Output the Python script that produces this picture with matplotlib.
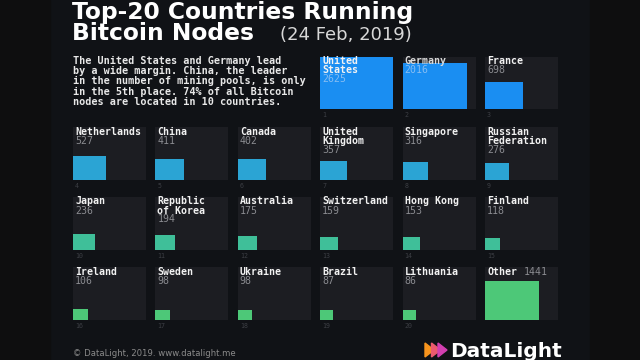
import numpy as np
import matplotlib
matplotlib.use("Agg")
import matplotlib.pyplot as plt
from matplotlib.patches import Rectangle, Polygon

# data
labels = ["United\nStates", "Germany", "France",
          "Netherlands", "China", "Canada", "United\nKingdom", "Singapore", "Russian\nFederation",
          "Japan", "Republic\nof Korea", "Australia", "Switzerland", "Hong Kong", "Finland",
          "Ireland", "Sweden", "Ukraine", "Brazil", "Lithuania", "Other"]
nodes = [2625, 2016, 698,
         527, 411, 402, 357, 316, 276,
         236, 194, 175, 159, 153, 118,
         106, 98, 98, 87, 86, 1441]
ranks = list(range(1, 21)) + [None]
row_colors = ["#1a8ef2", "#2ba4d4", "#3fbf99", "#4dc878"]

title1 = "Top-20 Countries Running"
title2 = "Bitcoin Nodes"
date_txt = "(24 Feb, 2019)"
intro = ["The United States and Germany lead",
         "by a wide margin. China, the leader",
         "in the number of mining pools, is only",
         "in the 5th place. 74% of all Bitcoin",
         "nodes are located in 10 countries."]
footer = "\u00a9 DataLight, 2019. www.datalight.me"

W, H = 640, 360
BG = "#101216"
CELL = "#1c1d22"
MONO = "DejaVu Sans Mono"

fig = plt.figure(figsize=(6.4, 3.6), dpi=100)
fig.patch.set_facecolor(BG)

# base layer in pixel coords
base = fig.add_axes([0, 0, 1, 1])
base.set_xlim(0, W)
base.set_ylim(H, 0)
base.axis("off")
base.add_patch(Rectangle((0, 0), 50, H, color="#0e0e0f"))
base.add_patch(Rectangle((590, 0), 50, H, color="#0e0e0f"))

def txt(x, y, s, **kw):
    kw.setdefault("va", "baseline")
    kw.setdefault("ha", "left")
    return base.text(x, y, s, **kw)

txt(72, 18.5, title1, fontsize=16.8, weight="bold", color="white")
txt(72, 40.5, title2, fontsize=16.8, weight="bold", color="white")
txt(280, 40, date_txt, fontsize=13, color="#d8d8d8")

for i, line in enumerate(intro):
    txt(73, 64 + 10.2 * i, line, fontsize=7.3, family=MONO, weight="bold", color="#e8e8e8")

txt(73, 356, footer, fontsize=6.1, color="#8a8a8a")

# logo
tri_cols = ["#f7941d", "#ec5a6e", "#d23fb0"]
for k, c in enumerate(tri_cols):
    x0 = 425 + 6.5 * k
    base.add_patch(Polygon([[x0, 343], [x0 + 9, 350], [x0, 357]], closed=True, color=c))
txt(450, 357, "DataLight", fontsize=14.5, weight="bold", color="white")

# grid of cells
cw, ch = 73, 52.7
col_x = [73 + 82.4 * c for c in range(6)]
row_y = [56.7, 127.3, 196.8, 267.3]
vmax = max(nodes)

positions = [(0, 3), (0, 4), (0, 5)] + [(r, c) for r in range(1, 4) for c in range(6)]

for i, (lab, v, rk) in enumerate(zip(labels, nodes, ranks)):
    r, c = positions[i]
    x, y = col_x[c], row_y[r]
    ax = fig.add_axes([x / W, 1 - (y + ch) / H, cw / W, ch / H])
    ax.set_facecolor(CELL)
    ax.set_xlim(0, 1)
    ax.set_ylim(0, 1)
    ax.set_xticks([])
    ax.set_yticks([])
    for s in ax.spines.values():
        s.set_visible(False)
    side = np.sqrt(v / vmax)
    ax.bar(0, side, width=side, align="edge", color=row_colors[r])

    on_bar = r == 0 and i < 2
    name_col = "#f2f2f2" if i != 1 else "#d9d9d9"
    val_col = "#86bdf2" if on_bar else "#8b8c91"
    nlines = lab.count("\n") + 1
    for j, part in enumerate(lab.split("\n")):
        ax.text(2 / cw, 1 - (7.7 + 9 * j) / ch, part, transform=ax.transAxes,
                fontsize=7.1, family=MONO, weight="bold", color=name_col, va="baseline")
    if lab == "Other":
        ax.text((2 + 6.2 * 6) / cw, 1 - 7.7 / ch, str(v), transform=ax.transAxes,
                fontsize=7.1, family=MONO, color=val_col, va="baseline")
    else:
        ax.text(2 / cw, 1 - (7.7 + 9 * nlines) / ch, str(v), transform=ax.transAxes,
                fontsize=7.1, family=MONO, color=val_col, va="baseline")
    if rk is not None:
        txt(x + 2, y + ch + 8, str(rk), fontsize=4.8, family=MONO, color="#3c3e44")

fig.savefig("out.png", dpi=100, facecolor=BG)
